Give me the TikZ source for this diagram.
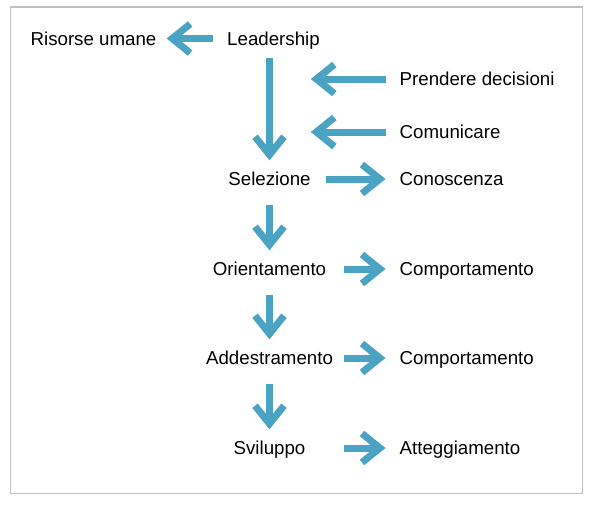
\documentclass[tikz,border=0pt]{standalone}
\usepackage{fontspec}
\setmainfont{Liberation Sans}
\definecolor{flowblue}{HTML}{4BA3C3}
\definecolor{framegray}{HTML}{C0C0C0}
\usetikzlibrary{arrows.meta}
\tikzset{>=latex,
  lbl/.style={font=\fontsize{18.7}{22}\selectfont, inner sep=0pt, text height=13pt, text depth=0pt},
  flow/.style={draw=flowblue, line width=7pt, -{Straight Barb[length=18pt,width=29pt]}},
  down/.style={flow, shorten <=19pt, shorten >=12pt}}
\begin{document}
\begin{tikzpicture}[x=1pt,y=-1pt]
\useasboundingbox (0,0) rectangle (591,507);
\draw[framegray, line width=1.5pt] (10.5,7) rectangle (582.5,493.5);
% middle column
\node[lbl] (lead) at (273.5,38.5) {Leadership};
\node[lbl] (sel) at (269.5,179) {Selezione};
\node[lbl] (ori) at (269.5,269) {Orientamento};
\node[lbl] (add) at (269.5,358) {Addestramento};
\node[lbl] (svi) at (269.5,448) {Sviluppo};
% outer labels
\node[lbl] (ris) at (93.5,38.5) {Risorse umane};
\node[lbl, anchor=west] (prend) at (399.5,79) {Prendere decisioni};
\node[lbl, anchor=west] (comu) at (399.5,132) {Comunicare};
\node[lbl, anchor=west] (cono) at (399.5,179) {Conoscenza};
\node[lbl, anchor=west] (comp1) at (399.5,269) {Comportamento};
\node[lbl, anchor=west] (comp2) at (399.5,358) {Comportamento};
\node[lbl, anchor=west] (att) at (399.5,448) {Atteggiamento};
\coordinate (tl) at (344,0);
% arrows
\draw[flow, shorten <=14pt, shorten >=10pt] (lead.west) -- (ris.east);
\draw[flow, shorten <=13pt, shorten >=12pt] (lead.south -| sel) -- (sel.north);
\draw[flow, shorten <=13.5pt] (prend.west) -- (prend.west -| sel.east);
\draw[flow, shorten <=13.5pt] (comu.west) -- (comu.west -| sel.east);
\draw[flow, shorten <=15pt, shorten >=14pt] (sel.east) -- (cono.west);
\draw[down] (sel.south) -- (ori.north);
\draw[down] (ori.south) -- (add.north);
\draw[down] (add.south) -- (svi.north);
\draw[flow, shorten >=14pt] (ori -| tl) -- (comp1.west);
\draw[flow, shorten >=14pt] (add -| tl) -- (comp2.west);
\draw[flow, shorten >=14pt] (svi -| tl) -- (att.west);
\end{tikzpicture}
\end{document}
